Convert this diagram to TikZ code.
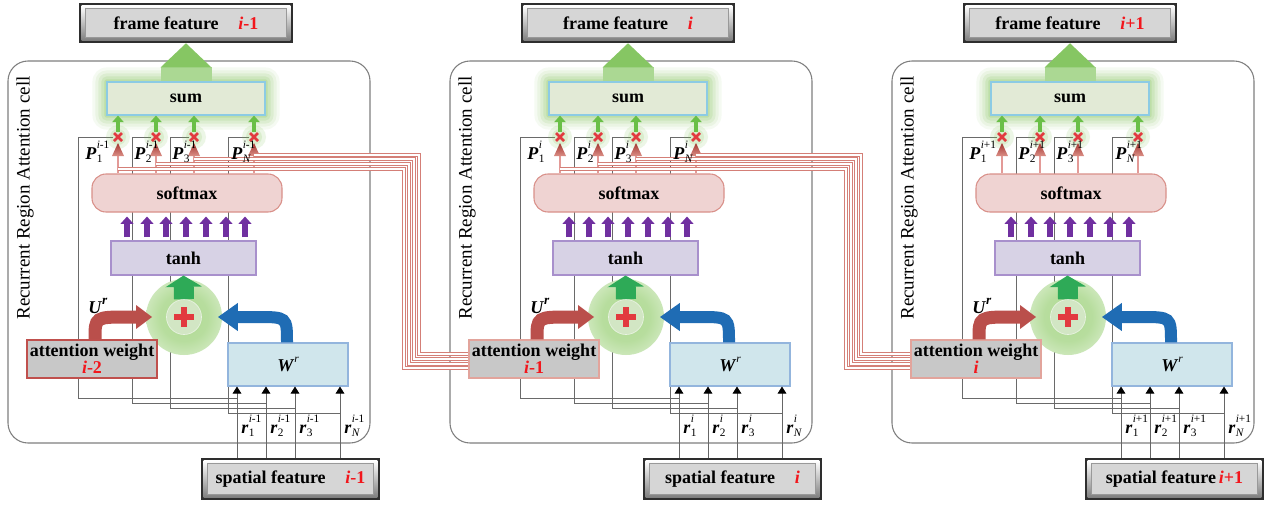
\documentclass[tikz,border=0pt]{standalone}
\usepackage{fontspec}
\setmainfont{Liberation Serif}
\usetikzlibrary{arrows.meta,calc}
\pgfdeclarelayer{back}
\pgfdeclarelayer{halo}
\pgfdeclarelayer{front}
\pgfsetlayers{back,halo,main,front}

\definecolor{cellgray}{HTML}{7F7F7F}
\definecolor{wirec}{HTML}{6A6A6A}
\definecolor{sumfill}{HTML}{E2EAD6}
\definecolor{sumedge}{HTML}{8CCBE4}
\definecolor{glowc}{HTML}{7DC24F}
\definecolor{smfill}{HTML}{EFD3D2}
\definecolor{smedge}{HTML}{D99089}
\definecolor{thfill}{HTML}{D7D2E5}
\definecolor{thedge}{HTML}{A890CC}
\definecolor{purplearr}{HTML}{7030A0}
\definecolor{plusgreen}{HTML}{2EAA57}
\definecolor{bigarrow}{HTML}{86C663}
\definecolor{bigshaft}{HTML}{ABD893}
\definecolor{smallgreen}{HTML}{6ABF47}
\definecolor{crossred}{HTML}{E23A3F}
\definecolor{stempink}{HTML}{E39A97}
\definecolor{headdark}{HTML}{A43530}
\definecolor{headlight}{HTML}{DA8F86}
\definecolor{uarrow}{HTML}{BA4F4B}
\definecolor{warrow}{HTML}{1F6CB4}
\definecolor{awfill}{HTML}{C8C8C8}
\definecolor{awedgeA}{HTML}{C0504D}
\definecolor{awedgeB}{HTML}{E2A49C}
\definecolor{wrfill}{HTML}{D0E6EC}
\definecolor{wredge}{HTML}{93B5DD}
\definecolor{idxred}{HTML}{F2161C}
\definecolor{bundlec}{HTML}{D47F77}
\definecolor{circfill}{HTML}{D2E6C4}
\definecolor{circedge}{HTML}{E9F3E2}

\pgfdeclareradialshading{plusglow}{\pgfpoint{0bp}{0bp}}{color(0bp)=(glowc!62!white); color(16bp)=(glowc!55!white); color(26bp)=(glowc!38!white); color(38bp)=(glowc!16!white); color(50bp)=(white)}

\newcommand\redidx[1]{\textcolor{idxred}{#1}}
% bold italic symbol with stacked subscript and superscript
\newcommand\pnlab[3]{\textit{#1}\kern0.3pt\rlap{\raisebox{-0.22em}{\fontsize{8.5}{9}\selectfont\mdseries\upshape #2}}\raisebox{0.6em}{\fontsize{8.5}{9}\selectfont\mdseries\upshape #3}}
% bevelled inner face of a black-framed box
\newcommand\ffbevel[1]{%
  \shade[top color=white, bottom color=black!50] ($(#1.north west)+(3,3)$) rectangle ($(#1.south east)+(-3,-3)$);
  \fill[fill=black!16, draw=black!40, line width=0.4pt] ($(#1.north west)+(7,6)$) rectangle ($(#1.south east)+(-7,-6)$);}

\tikzset{
  lab/.style={font=\fontsize{13.5}{13}\selectfont\bfseries, inner sep=1pt},
  title/.style={rotate=90, font=\fontsize{14.25}{15}\selectfont, inner sep=0pt},
  blackbox/.style={fill=black!82, inner sep=0pt},
  sumbox/.style={lab, draw=sumedge, fill=sumfill, line width=0.8pt, minimum width=118.5pt, minimum height=24.75pt},
  smbox/.style={lab, draw=smedge, fill=smfill, line width=0.8pt, rounded corners=10.5pt, minimum width=142.5pt, minimum height=28.5pt},
  thbox/.style={lab, draw=thedge, fill=thfill, line width=0.8pt, minimum width=108.75pt, minimum height=25.5pt},
  plusnode/.style={circle, fill=circfill, draw=circedge, line width=0.5pt, minimum size=26.25pt, inner sep=0pt},
  awbox/.style={lab, fill=awfill, line width=1.1pt, minimum width=97.5pt, minimum height=28.5pt, align=center, inner sep=0pt},
  wrbox/.style={lab, draw=wredge, fill=wrfill, line width=0.8pt, minimum width=90pt, minimum height=32.25pt},
  mulnode/.style={inner sep=0pt, minimum size=7pt},
  sublab/.style={lab, anchor=base west, inner sep=0pt},
  wire/.style={draw=wirec, line width=0.65pt},
  cellline/.style={draw=cellgray, line width=0.8pt, rounded corners=15pt},
  bundleline/.style={draw=bundlec, line width=0.75pt, double=white, double distance=1.0pt},
  purp/.style={draw=purplearr, line width=4pt, -{Triangle[length=5.5pt,width=9.5pt]}, shorten <=2.5pt, shorten >=3pt},
  plusarr/.style={draw=plusgreen, line width=15pt, -{Triangle[length=8.5pt,width=27pt]}},
  uarr/.style={draw=uarrow, line width=9.75pt, -{Triangle[length=12pt,width=17pt]}},
  warr/.style={draw=warrow, line width=9pt, -{Triangle[length=15pt,width=20pt]}},
  smallarr/.style={draw=smallgreen, line width=3pt, -{Triangle[length=5pt,width=8.5pt]}},
  rinput/.style={draw=black!60, line width=0.7pt, -{Triangle[length=5.25pt,width=6.5pt,color=black]}},
}

% one recurrent region attention cell
% #1 id, #2 x offset, #3 time index of P and r, #4 previous weight index,
% #5 frame label suffix, #6 border colour of the weight box, #7 spatial label suffix
\newcommand\rracell[7]{%
  \pgfmathsetmacro\ox{#2}%
  \node[blackbox, minimum width=160.5pt, minimum height=30pt] (ff#1) at (\ox+186,23) {};
  \ffbevel{ff#1}
  \node[lab] (fft#1) at (ff#1) {frame feature#5};
  \node[blackbox, minimum width=134.25pt, minimum height=31.5pt] (sf#1) at (\ox+290.5,479) {};
  \ffbevel{sf#1}
  \node[lab] (sft#1) at (sf#1) {spatial feature#7};
  \node[sumbox] (sum#1) at (\ox+186,98.5) {sum};
  \node[smbox] (sm#1) at (\ox+187,193) {softmax};
  \node[thbox] (th#1) at (\ox+183.5,258) {tanh};
  \node[plusnode] (pl#1) at (\ox+184,317) {};
  \node[awbox, draw=#6] (aw#1) at (\ox+92,359) {attention weight\\\redidx{#4}};
  \node[wrbox] (wr#1) at (\ox+288,364.5) {\raisebox{-3pt}{\textit{W}\raisebox{0.5em}{\fontsize{8.5}{9}\selectfont\mdseries\textit{r}}}};
  \node[title] (ttl#1) at (\ox+25,198) {Recurrent Region Attention cell};
  \foreach \k/\xx in {1/118,2/156,3/194,4/254}{\node[mulnode] (mul#1\k) at (\ox+\xx,137) {};}
  \foreach \k/\xx in {1/237,2/266,3/295,4/340}{\coordinate (rs#1\k) at (\ox+\xx,458);}
  % cell frame and the wires from each region input to its product
  \begin{pgfonlayer}{back}
    \draw[cellline] (\ox+8,61) rectangle (\ox+370,443);
    \draw[wire] (rs#11 |- 0,398) -- (\ox+78,398) -- (\ox+78,137) -- (mul#11.west);
    \draw[wire] (rs#12 |- 0,403) -- (\ox+132,403) -- (\ox+132,137) -- (mul#12.west);
    \draw[wire] (rs#13 |- 0,408) -- (\ox+170,408) -- (\ox+170,137) -- (mul#13.west);
    \draw[wire] (rs#14 |- 0,413) -- (\ox+228,413) -- (\ox+228,137) -- (mul#14.west);
  \end{pgfonlayer}
  % soft green glows
  \begin{pgfonlayer}{halo}
    \foreach \d/\o in {14/0.07,11/0.09,8/0.12,5/0.15,2/0.2}{\fill[glowc, opacity=\o, rounded corners=\d*0.75pt] ($(sum#1.north west)+(-\d,-\d)$) rectangle ($(sum#1.south east)+(\d,\d)$);}
    \foreach \k in {1,2,3,4}{\fill[glowc, opacity=0.14] (mul#1\k) circle (12); \fill[glowc, opacity=0.16] (mul#1\k) circle (8);}
    \shade[shading=plusglow] (pl#1) circle (38);
  \end{pgfonlayer}
  % output arrow to the frame feature
  \fill[bigshaft] ($(sum#1.north)+(-25.5,0)$) rectangle ($(sum#1.north)+(25.5,-14)$);
  \fill[bigarrow] ($(sum#1.north)+(-25.5,-14)$) -- (ff#1.south) -- ($(sum#1.north)+(25.5,-14)$) -- cycle;
  % weights, products and region inputs
  \foreach \k in {1,2,3,4}{
    \draw[stempink, line width=1.1pt] (mul#1\k |- sm#1.north) -- ($(mul#1\k)+(0,17)$);
    \shade[top color=headdark, bottom color=headlight] ($(mul#1\k)+(-6,19)$) -- ($(mul#1\k)+(0,6)$) -- ($(mul#1\k)+(6,19)$) -- cycle;
    \draw[crossred, line width=2.1pt] ($(mul#1\k)+(-4,-4)$) -- ($(mul#1\k)+(4,4)$) ($(mul#1\k)+(-4,4)$) -- ($(mul#1\k)+(4,-4)$);
    \draw[smallarr] ($(mul#1\k)+(0,-5)$) -- (mul#1\k |- sum#1.south);
    \draw[rinput] (rs#1\k) -- (rs#1\k |- wr#1.south);
  }
  % tanh to softmax
  \foreach \xx in {127,147,166,186,206,226,245}{\draw[purp] (th#1.north -| \ox+\xx,0) -- (sm#1.south -| \ox+\xx,0);}
  \draw[plusarr] (pl#1.north) -- (th#1.south);
  \fill[crossred] ($(pl#1)+(-10,-3)$) rectangle ($(pl#1)+(10,3)$);
  \fill[crossred] ($(pl#1)+(-3,-10)$) rectangle ($(pl#1)+(3,10)$);
  \draw[uarr] (aw#1.north -| \ox+95,0) .. controls (\ox+95,317) .. (\ox+128,317) -- ($(pl#1.west)+(-14,0)$);
  \draw[warr] (wr#1.north -| \ox+287,0) .. controls (\ox+287,317) .. (\ox+257,317) -- ($(pl#1.east)+(16,0)$);
  % symbols, kept above the weight lines
  \begin{pgfonlayer}{front}
    \node[sublab] (pa#1) at (\ox+85,159) {\pnlab{P}{1}{#3}};
    \node[sublab] (pb#1) at (\ox+134,159) {\pnlab{P}{2}{#3}};
    \node[sublab] (pc#1) at (\ox+172,159) {\pnlab{P}{3}{#3}};
    \node[sublab] (pd#1) at (\ox+231,159) {\pnlab{P}{\textit{N}}{#3}};
    \node[sublab] (ra#1) at (\ox+241,433) {\pnlab{r}{1}{#3}};
    \node[sublab] (rb#1) at (\ox+270,433) {\pnlab{r}{2}{#3}};
    \node[sublab] (rc#1) at (\ox+299,433) {\pnlab{r}{3}{#3}};
    \node[sublab] (rd#1) at (\ox+344,433) {\pnlab{r}{\textit{N}}{#3}};
    \node[sublab] (ur#1) at (\ox+88,313) {\textit{U}\raisebox{0.5em}{\fontsize{10}{10}\selectfont\textit{r}}};
  \end{pgfonlayer}
}

% weights of one cell handed to the weight box of the next cell
\newcommand\rrabundle[3]{%
  \pgfmathsetmacro\bx{#3}%
  \draw[bundleline] (mul#11 |- 0,169) -- (\bx+404,169) -- (\bx+404,368) -- (aw#2.west |- 0,368);
  \draw[bundleline] (mul#12 |- 0,164) -- (\bx+409,164) -- (\bx+409,364) -- (aw#2.west |- 0,364);
  \draw[bundleline] (mul#13 |- 0,159) -- (\bx+414,159) -- (\bx+414,359) -- (aw#2.west |- 0,359);
  \draw[bundleline] (mul#14 |- 0,155) -- (\bx+419,155) -- (\bx+419,354) -- (aw#2.west |- 0,354);
}

\begin{document}
\begin{tikzpicture}[x=0.75pt,y=-0.75pt]
\useasboundingbox (0,0) rectangle (1264,504);
\begin{pgfonlayer}{back}
  \fill[white] (0,0) rectangle (1264,504);
\end{pgfonlayer}
\rracell{a}{0}{\textit{i}-1}{\textit{i}-2}{\hspace{1.1em}\redidx{\textit{i}-1}}{awedgeA}{\hspace{1.1em}\redidx{\textit{i}-1}}
\rracell{b}{442}{\textit{i}}{\textit{i}-1}{\hspace{1.1em}\redidx{\textit{i}}}{awedgeB}{\hspace{1.1em}\redidx{\textit{i}}}
\rracell{c}{884}{\textit{i}+1}{\textit{i}}{\hspace{1.1em}\redidx{\textit{i}+1}}{awedgeB}{\hspace{0.15em}\redidx{\textit{i}+1}}
\rrabundle{a}{b}{0}
\rrabundle{b}{c}{442}
\end{tikzpicture}
\end{document}
